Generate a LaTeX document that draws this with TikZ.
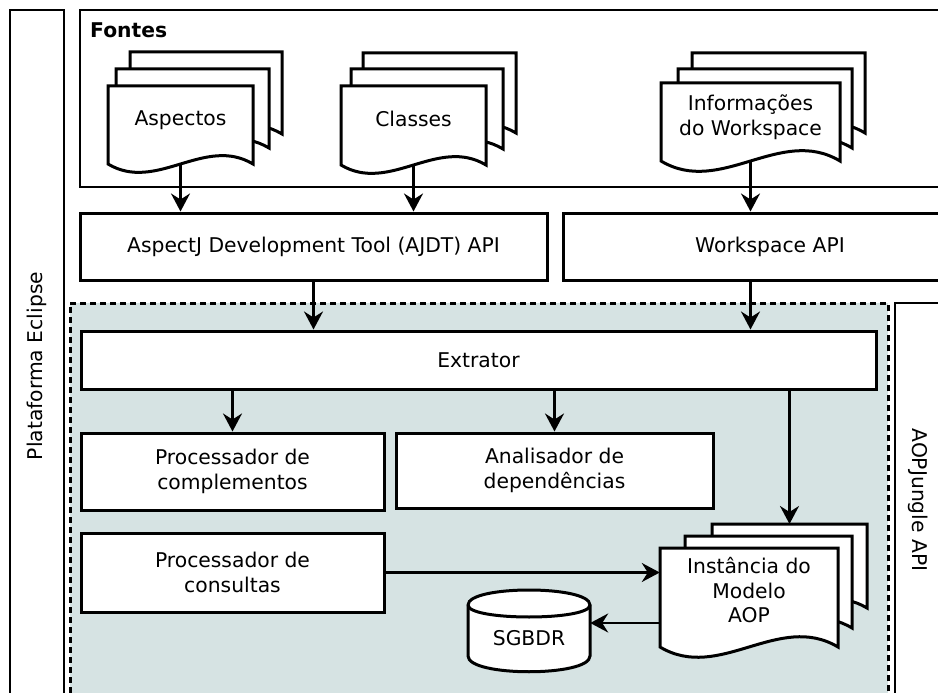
\documentclass[tikz,border=0pt]{standalone}
\usepackage{fontspec}
\setmainfont{DejaVu Sans}
\usetikzlibrary{arrows.meta,calc}

\definecolor{corefill}{RGB}{214,227,227}
\newcommand{\mainfs}{\fontsize{20.3}{24.5}\selectfont}
% text raised inside a document page, box metrics unchanged
\newcommand{\lift}[1]{\raisebox{4pt}[\height][\depth]{\begin{tabular}{@{}c@{}}#1\end{tabular}}}
% one page of a document stack: left, top, right, bottom (wavy bottom edge)
\newcommand{\docpage}[4]{%
  \filldraw[page] (#1,#2) -- (#3,#2) -- (#3,#4)
    .. controls ({#3-(#3-#1)/3},{#4-0.2*(#3-#1)}) and ({#1+(#3-#1)/3},{#4+0.2*(#3-#1)}) .. (#1,#4) -- cycle;}

\begin{document}
\begin{tikzpicture}[x=1pt,y=-1pt,
  box/.style={draw, line width=3pt, fill=white, inner sep=0pt, align=center, font=\mainfs},
  frame/.style={draw, line width=2.8pt, fill=white, inner sep=0pt, font=\mainfs},
  txt/.style={inner sep=0pt, align=center, font=\mainfs},
  page/.style={draw, fill=white, line width=3pt, line join=miter},
  region/.style={draw, dash pattern=on 6pt off 4pt, fill=corefill, line width=3pt, inner sep=0pt},
  arr/.style={line width=2.4pt, -{Stealth[length=18pt,width=19pt,inset=6pt]}}]
\useasboundingbox (0,0) rectangle (938,693);

% platform and sources frames
\node[frame, rotate=90, minimum width=712pt, minimum height=54pt] (eclipse) at (37,366) {Plataforma Eclipse};
\node[frame, minimum width=880pt, minimum height=177pt] (fontes) at (520,98.5) {};
\node[anchor=west, inner sep=0pt, font=\mainfs\bfseries] (fontes-lbl) at (90,30) {Fontes};

% document stacks inside the sources frame
\docpage{130}{52}{282}{134}
\docpage{116}{69}{269}{148}
\docpage{108}{86}{253}{164}
\node[txt, minimum width=145pt, minimum height=78pt] (asp) at (180.5,125) {\lift{Aspectos}};

\docpage{363}{53}{516}{133}
\docpage{351}{69}{503}{149}
\docpage{341}{86}{486}{165}
\node[txt, minimum width=145pt, minimum height=79pt] (cls) at (413.5,125.5) {\lift{Classes}};

\docpage{692}{53}{865}{133}
\docpage{678}{69}{852}{148}
\docpage{661}{83}{840}{161}
\node[txt, minimum width=179pt, minimum height=78pt] (info) at (750.5,122) {\lift{Informações\\do Workspace}};

% APIs
\node[box, minimum width=467pt, minimum height=67pt] (ajdt) at (313.5,246.5) {AspectJ Development Tool (AJDT) API};
\node[box, minimum width=414pt, minimum height=67pt] (ws) at (770,246.5) {Workspace API};

% AOPJungle core region and API frame
\node[region, minimum width=818pt, minimum height=420pt] (core) at (479,513) {};
\node[frame, rotate=-90, minimum width=394pt, minimum height=46pt] (aopapi) at (918,500) {AOPJungle API};

\node[box, minimum width=795pt, minimum height=58pt] (extr) at (478.5,360) {Extrator};
\node[box, minimum width=303pt, minimum height=77pt] (comp) at (232.5,471.5) {Processador de\\complementos};
\node[box, minimum width=317pt, minimum height=75pt] (anal) at (554.5,470.5) {Analisador de\\dependências};
\node[box, minimum width=303pt, minimum height=79pt] (cons) at (232.5,572.5) {Processador de\\consultas};

% model instance stack
\docpage{712}{524}{867}{608}
\docpage{685}{536}{852}{628}
\docpage{660}{548}{838}{647}
\node[txt, minimum width=178pt, minimum height=99pt] (inst) at (749,597.5) {\lift{Instância do\\Modelo\\AOP}};
\coordinate (inst-back) at (789.5,524);

% database
\filldraw[page] (468,605) .. controls (468,585) and (590,585) .. (590,605) -- (590,656)
  .. controls (590,677) and (468,677) .. (468,656) -- cycle;
\draw[page, fill=none] (468,605) .. controls (468,621) and (590,621) .. (590,605);
\node[txt, minimum width=122pt] (sgbd) at (529,638) {SGBDR};
\coordinate (sg-in) at ([yshift=15pt]sgbd.east);

% connectors
\draw[arr] (asp.south) -- (asp.south |- ajdt.north);
\draw[arr] (cls.south) -- (cls.south |- ajdt.north);
\draw[arr] (info.south) -- (info.south |- ws.north);
\draw[arr] (ajdt.south) -- (ajdt.south |- extr.north);
\draw[arr] (info.south |- ws.south) -- (info.south |- extr.north);
\draw[arr] (comp.north |- extr.south) -- (comp.north);
\draw[arr] (anal.north |- extr.south) -- (anal.north);
\draw[arr] (extr.south -| inst-back) -- (inst-back);
\draw[arr] (cons.east) -- (cons.east -| inst.west);
\draw[arr] (inst.west |- sg-in) -- (sg-in);
\end{tikzpicture}
\end{document}
